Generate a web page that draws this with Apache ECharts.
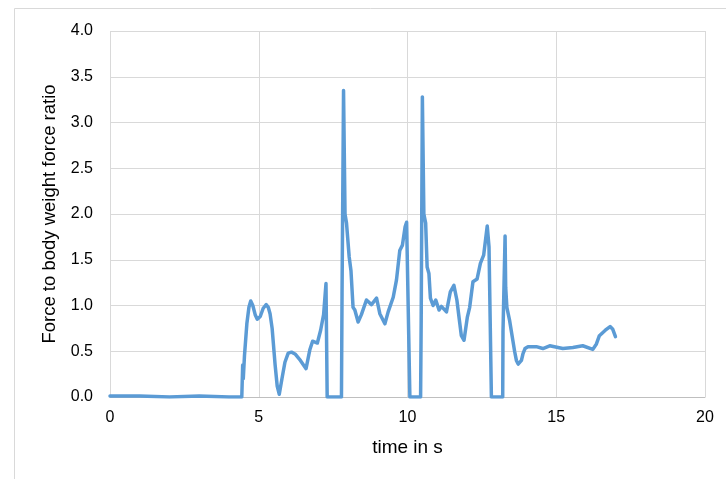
<!DOCTYPE html>
<html>
<head>
<meta charset="utf-8">
<script src="https://cdn.jsdelivr.net/npm/echarts@6/dist/echarts.min.js"></script>
<style>html,body{margin:0;padding:0;background:#fff}#c{width:726px;height:479px}</style>
</head>
<body>
<div id="c"></div>
<script>
var timeS = [0, 1, 2, 3, 4, 4.43, 4.46, 4.48, 4.52, 4.6, 4.67, 4.73, 4.8, 4.88, 4.95, 5.05, 5.15, 5.25, 5.32, 5.38, 5.45, 5.55, 5.62, 5.69, 5.78, 5.88, 5.99, 6.1, 6.22, 6.4, 6.59, 6.72, 6.81, 6.97, 7.08, 7.18, 7.26, 7.30, 7.5, 7.78, 7.80, 7.85, 7.90, 7.95, 8.04, 8.10, 8.17, 8.23, 8.34, 8.45, 8.62, 8.79, 8.96, 9.07, 9.24, 9.35, 9.52, 9.63, 9.74, 9.83, 9.92, 9.97, 10.08, 10.3, 10.44, 10.46, 10.50, 10.55, 10.61, 10.66, 10.72, 10.77, 10.86, 10.95, 11.06, 11.14, 11.31, 11.44, 11.56, 11.66, 11.74, 11.81, 11.90, 12.01, 12.09, 12.20, 12.34, 12.45, 12.56, 12.68, 12.74, 12.82, 13.0, 13.20, 13.21, 13.28, 13.30, 13.34, 13.43, 13.54, 13.60, 13.66, 13.72, 13.77, 13.83, 13.88, 13.95, 14.05, 14.33, 14.55, 14.78, 15.22, 15.56, 15.89, 16.23, 16.35, 16.45, 16.65, 16.81, 16.90, 16.99];
var forceRatio = [0.01, 0.01, 0.0, 0.01, 0.0, 0.0, 0.35, 0.2, 0.45, 0.8, 0.98, 1.05, 1.0, 0.9, 0.85, 0.88, 0.97, 1.01, 0.98, 0.91, 0.75, 0.35, 0.12, 0.03, 0.2, 0.38, 0.48, 0.49, 0.47, 0.40, 0.31, 0.52, 0.61, 0.59, 0.73, 0.9, 1.24, 0.0, 0.0, 0.0, 1.13, 3.35, 2.0, 1.9, 1.53, 1.38, 0.98, 0.95, 0.82, 0.9, 1.06, 1.01, 1.08, 0.91, 0.80, 0.93, 1.09, 1.28, 1.60, 1.66, 1.86, 1.91, 0.0, 0.0, 0.0, 0.84, 3.28, 2.0, 1.9, 1.42, 1.35, 1.08, 1.0, 1.06, 0.95, 0.99, 0.93, 1.15, 1.22, 1.06, 0.85, 0.67, 0.62, 0.87, 0.98, 1.26, 1.29, 1.46, 1.55, 1.87, 1.64, 0.0, 0.0, 0.0, 0.71, 1.76, 1.2, 0.98, 0.84, 0.62, 0.5, 0.40, 0.36, 0.35, 0.4, 0.47, 0.53, 0.55, 0.55, 0.53, 0.56, 0.53, 0.54, 0.56, 0.52, 0.58, 0.67, 0.73, 0.77, 0.74, 0.66];
var xTicks = [0, 5, 10, 15, 20];
var yTicks = [0, 0.5, 1.0, 1.5, 2.0, 2.5, 3.0, 3.5, 4.0];

var pts = timeS.map(function (t, i) { return [t, forceRatio[i]]; });
var chart = echarts.init(document.getElementById('c'));
var font = '"Liberation Sans", Arial, sans-serif';
chart.setOption({
  animation: false,
  graphic: [{
    type: 'rect', shape: { x: 14.5, y: 8.5, width: 900, height: 700 },
    style: { fill: 'none', stroke: '#d9d9d9', lineWidth: 1 }, silent: true
  }],
  grid: { left: 110, right: 21, top: 31, bottom: 82 },
  xAxis: {
    type: 'value', min: xTicks[0], max: xTicks[xTicks.length - 1], interval: 5,
    name: 'time in s', nameLocation: 'middle', nameGap: 41,
    nameTextStyle: { fontFamily: font, fontSize: 19, color: '#000' },
    axisLine: { show: true, lineStyle: { color: '#bfbfbf', width: 1 } },
    axisTick: { show: false },
    axisLabel: { fontFamily: font, fontSize: 16, color: '#000', margin: 13 },
    splitLine: { show: true, lineStyle: { color: '#d9d9d9', width: 1 } }
  },
  yAxis: {
    type: 'value', min: yTicks[0], max: yTicks[yTicks.length - 1], interval: 0.5,
    name: 'Force to body weight force ratio', nameLocation: 'middle', nameGap: 48,
    nameTextStyle: { fontFamily: font, fontSize: 18.5, color: '#000' },
    axisLine: { show: false },
    axisTick: { show: false },
    axisLabel: { fontFamily: font, fontSize: 16, color: '#000', margin: 17,
      formatter: function (v) { return v.toFixed(1); } },
    splitLine: { show: true, lineStyle: { color: '#d9d9d9', width: 1 } }
  },
  series: [{
    type: 'line', data: pts, showSymbol: false, symbol: 'none',
    lineStyle: { color: '#5b9bd5', width: 3.5, join: 'round', cap: 'round' },
    z: 3
  }]
});
</script>
</body>
</html>
